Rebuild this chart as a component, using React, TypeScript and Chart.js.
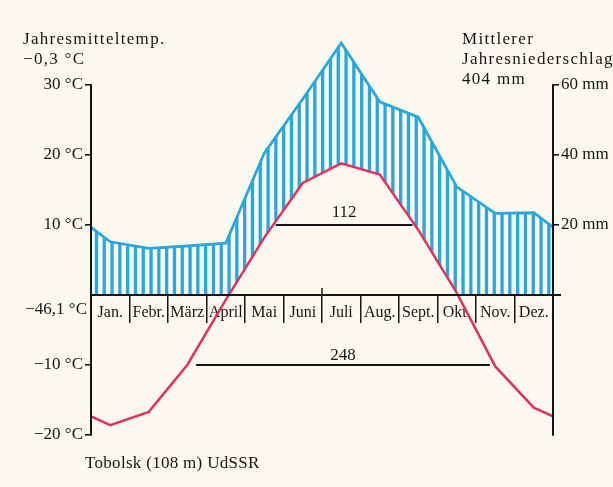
import React, { useEffect, useRef } from 'react';
import { Chart, registerables } from 'chart.js';

Chart.register(...registerables);

// ---------- data ----------
const months = ['Jan.', 'Febr.', 'März', 'April', 'Mai', 'Juni', 'Juli', 'Aug.', 'Sept.', 'Okt.', 'Nov.', 'Dez.'];
const temperatureC = [-18.6, -16.7, -10.0, -0.7, 8.2, 16.0, 18.8, 17.2, 9.3, 0.3, -10.2, -16.1];
const precipitationMm = [15.2, 13.3, 14.0, 14.8, 40.5, 56.0, 72.0, 55.2, 50.8, 30.9, 23.3, 23.5];
const tempTicks = [-20, -10, 10, 20, 30];
const precipTicks = [20, 40, 60];
const warmPeriod = [4.8, 8.35]; // months, at 10 °C
const warmLevel = 10;
const warmDays = '112';
const coldPeriod = [2.73, 10.36]; // months, at -10 °C
const coldLevel = -10;
const coldDays = '248';
const midYear = 6; // boundary Juni/Juli
const leftTitle = ['Jahresmitteltemp.', '\u22120,3 °C'];
const rightTitle = ['Mittlerer', 'Jahresniederschlag', '404 mm'];
const absMinLabel = '\u221246,1 °C';
const stationLabel = 'Tobolsk (108 m) UdSSR';

// ---------- styles ----------
const BG = '#fcfaee';
const INK = '#161616';
const BLUE = '#2aa8de';
const RED = '#e1325e';
const SERIF = '"Liberation Serif", "Times New Roman", serif';

function makeHatch(color: string): CanvasPattern | string {
  const c = document.createElement('canvas');
  c.width = 78;
  c.height = 4;
  const g = c.getContext('2d');
  if (!g) return color;
  g.fillStyle = color;
  for (let k = 0; k < 10; k++) g.fillRect(1.2 + k * 7.8, 0, 3.3, 4);
  return g.createPattern(c, 'repeat') || color;
}

const wrap = (vals: number[]) => [
  { x: -0.5, y: vals[vals.length - 1] },
  ...vals.map((v, i) => ({ x: i + 0.5, y: v })),
  { x: vals.length + 0.5, y: vals[0] },
];

const fmtTemp = (v: number) => (v < 0 ? '\u2212' + Math.abs(v) : String(v)) + ' °C';

const textPlugin = {
  id: 'climateTexts',
  afterDraw(chart: any) {
    const { ctx, chartArea, scales } = chart;
    const y = scales.y;
    const y2 = scales.y2;
    const x = scales.x;
    const zero = y.getPixelForValue(0);
    ctx.save();
    // axis lines
    ctx.strokeStyle = INK;
    ctx.lineWidth = 2;
    ctx.beginPath();
    ctx.moveTo(chartArea.left, y.getPixelForValue(Math.max(...tempTicks)) - 0.75);
    ctx.lineTo(chartArea.left, y.getPixelForValue(Math.min(...tempTicks)) + 0.75);
    ctx.moveTo(chartArea.right, y2.getPixelForValue(Math.max(...precipTicks)) - 0.75);
    ctx.lineTo(chartArea.right, y.getPixelForValue(Math.min(...tempTicks)) + 0.75);
    // baseline overhang and mid-year mark
    ctx.moveTo(chartArea.right, zero);
    ctx.lineTo(chartArea.right + 8, zero);
    ctx.stroke();
    ctx.lineWidth = 1.5;
    ctx.beginPath();
    ctx.moveTo(x.getPixelForValue(midYear), zero - 7);
    ctx.lineTo(x.getPixelForValue(midYear), zero);
    ctx.stroke();

    ctx.fillStyle = INK;
    ctx.textBaseline = 'alphabetic';
    ctx.textAlign = 'left';
    ctx.font = '17px ' + SERIF;
    (ctx as any).letterSpacing = '1.3px';
    leftTitle.forEach((t, i) => ctx.fillText(t, 23, 44 + i * 19.5));
    rightTitle.forEach((t, i) => ctx.fillText(t, 462, 44 + i * 20));
    (ctx as any).letterSpacing = '0.3px';
    ctx.fillText(stationLabel, 85, 468);
    (ctx as any).letterSpacing = '0px';

    ctx.textAlign = 'right';
    ctx.textBaseline = 'middle';
    ctx.fillText(absMinLabel, chartArea.left - 4, zero + 15);

    ctx.textAlign = 'center';
    ctx.textBaseline = 'alphabetic';
    ctx.fillText(
      warmDays,
      x.getPixelForValue((warmPeriod[0] + warmPeriod[1]) / 2),
      y.getPixelForValue(warmLevel) - 8
    );
    ctx.fillText(
      coldDays,
      x.getPixelForValue((coldPeriod[0] + coldPeriod[1]) / 2),
      y.getPixelForValue(coldLevel) - 5
    );
    ctx.restore();
  },
};

export default function App() {
  const ref = useRef<HTMLCanvasElement | null>(null);

  useEffect(() => {
    if (!ref.current) return;
    const hatch = makeHatch(BLUE);
    const chart = new Chart(ref.current, {
      type: 'line',
      data: {
        datasets: [
          {
            label: 'Temperatur',
            data: wrap(temperatureC),
            xAxisID: 'x',
            yAxisID: 'y',
            borderColor: RED,
            borderWidth: 2.5,
            pointRadius: 0,
            tension: 0,
            fill: { target: 'origin', above: BG, below: 'rgba(0,0,0,0)' },
          } as any,
          {
            label: 'Niederschlag',
            data: wrap(precipitationMm),
            xAxisID: 'x',
            yAxisID: 'y2',
            borderColor: BLUE,
            borderWidth: 2.8,
            pointRadius: 0,
            tension: 0,
            fill: { target: 'origin', above: hatch, below: 'rgba(0,0,0,0)' },
          } as any,
          {
            label: warmDays,
            data: warmPeriod.map((m) => ({ x: m, y: warmLevel })),
            xAxisID: 'x',
            yAxisID: 'y',
            borderColor: INK,
            borderWidth: 2,
            pointRadius: 0,
            fill: false,
          },
          {
            label: coldDays,
            data: coldPeriod.map((m) => ({ x: m, y: coldLevel })),
            xAxisID: 'x',
            yAxisID: 'y',
            borderColor: INK,
            borderWidth: 2,
            pointRadius: 0,
            fill: false,
          },
        ],
      },
      options: {
        animation: false,
        responsive: false,
        events: [],
        layout: { padding: { top: 36, bottom: 52, left: 0, right: 0 } },
        plugins: {
          legend: { display: false },
          tooltip: { enabled: false },
          title: { display: false },
          filler: { drawTime: 'beforeDatasetsDraw' },
        },
        scales: {
          x: {
            type: 'linear',
            min: 0,
            max: months.length,
            position: { y: 0 } as any,
            afterBuildTicks: (s: any) => {
              s.ticks = Array.from({ length: months.length + 1 }, (_, i) => ({ value: i }));
            },
            ticks: { display: false },
            grid: {
              drawOnChartArea: false,
              drawTicks: true,
              tickLength: 27,
              color: INK,
              lineWidth: 1.5,
              z: 1,
            } as any,
            border: { display: true, color: INK, width: 2, z: 1 } as any,
          },
          xm: {
            type: 'category',
            labels: months,
            offset: true,
            position: { y: 0 } as any,
            grid: { display: false },
            border: { display: false },
            ticks: {
              autoSkip: false,
              maxRotation: 0,
              minRotation: 0,
              padding: 0,
              color: INK,
              font: { family: SERIF, size: 16 },
            },
          },
          y: {
            type: 'linear',
            position: 'left',
            min: -20,
            max: 37,
            afterBuildTicks: (s: any) => {
              s.ticks = tempTicks.map((v) => ({ value: v }));
            },
            afterFit: (s: any) => {
              s.width = 91;
            },
            ticks: {
              padding: 2,
              color: INK,
              font: { family: SERIF, size: 17 },
              callback: (v: any) => fmtTemp(Number(v)),
            },
            grid: { drawOnChartArea: false, drawTicks: true, tickLength: 6, color: INK, lineWidth: 1.6 },
            border: { display: false },
          },
          y2: {
            type: 'linear',
            position: 'right',
            min: -40,
            max: 74,
            afterBuildTicks: (s: any) => {
              s.ticks = precipTicks.map((v) => ({ value: v }));
            },
            afterFit: (s: any) => {
              s.width = 60;
            },
            ticks: {
              padding: 2,
              color: INK,
              font: { family: SERIF, size: 17 },
              callback: (v: any) => v + ' mm',
            },
            grid: { drawOnChartArea: false, drawTicks: true, tickLength: 6, color: INK, lineWidth: 1.6 },
            border: { display: false },
          },
        },
      } as any,
      plugins: [textPlugin],
    });
    return () => chart.destroy();
  }, []);

  return (
    <div
      style={{
        position: 'fixed',
        left: 0,
        top: 0,
        width: 613,
        height: 487,
        background: BG,
        overflow: 'hidden',
      }}
    >
      <canvas ref={ref} width={613} height={487} style={{ display: 'block' }} />
    </div>
  );
}
